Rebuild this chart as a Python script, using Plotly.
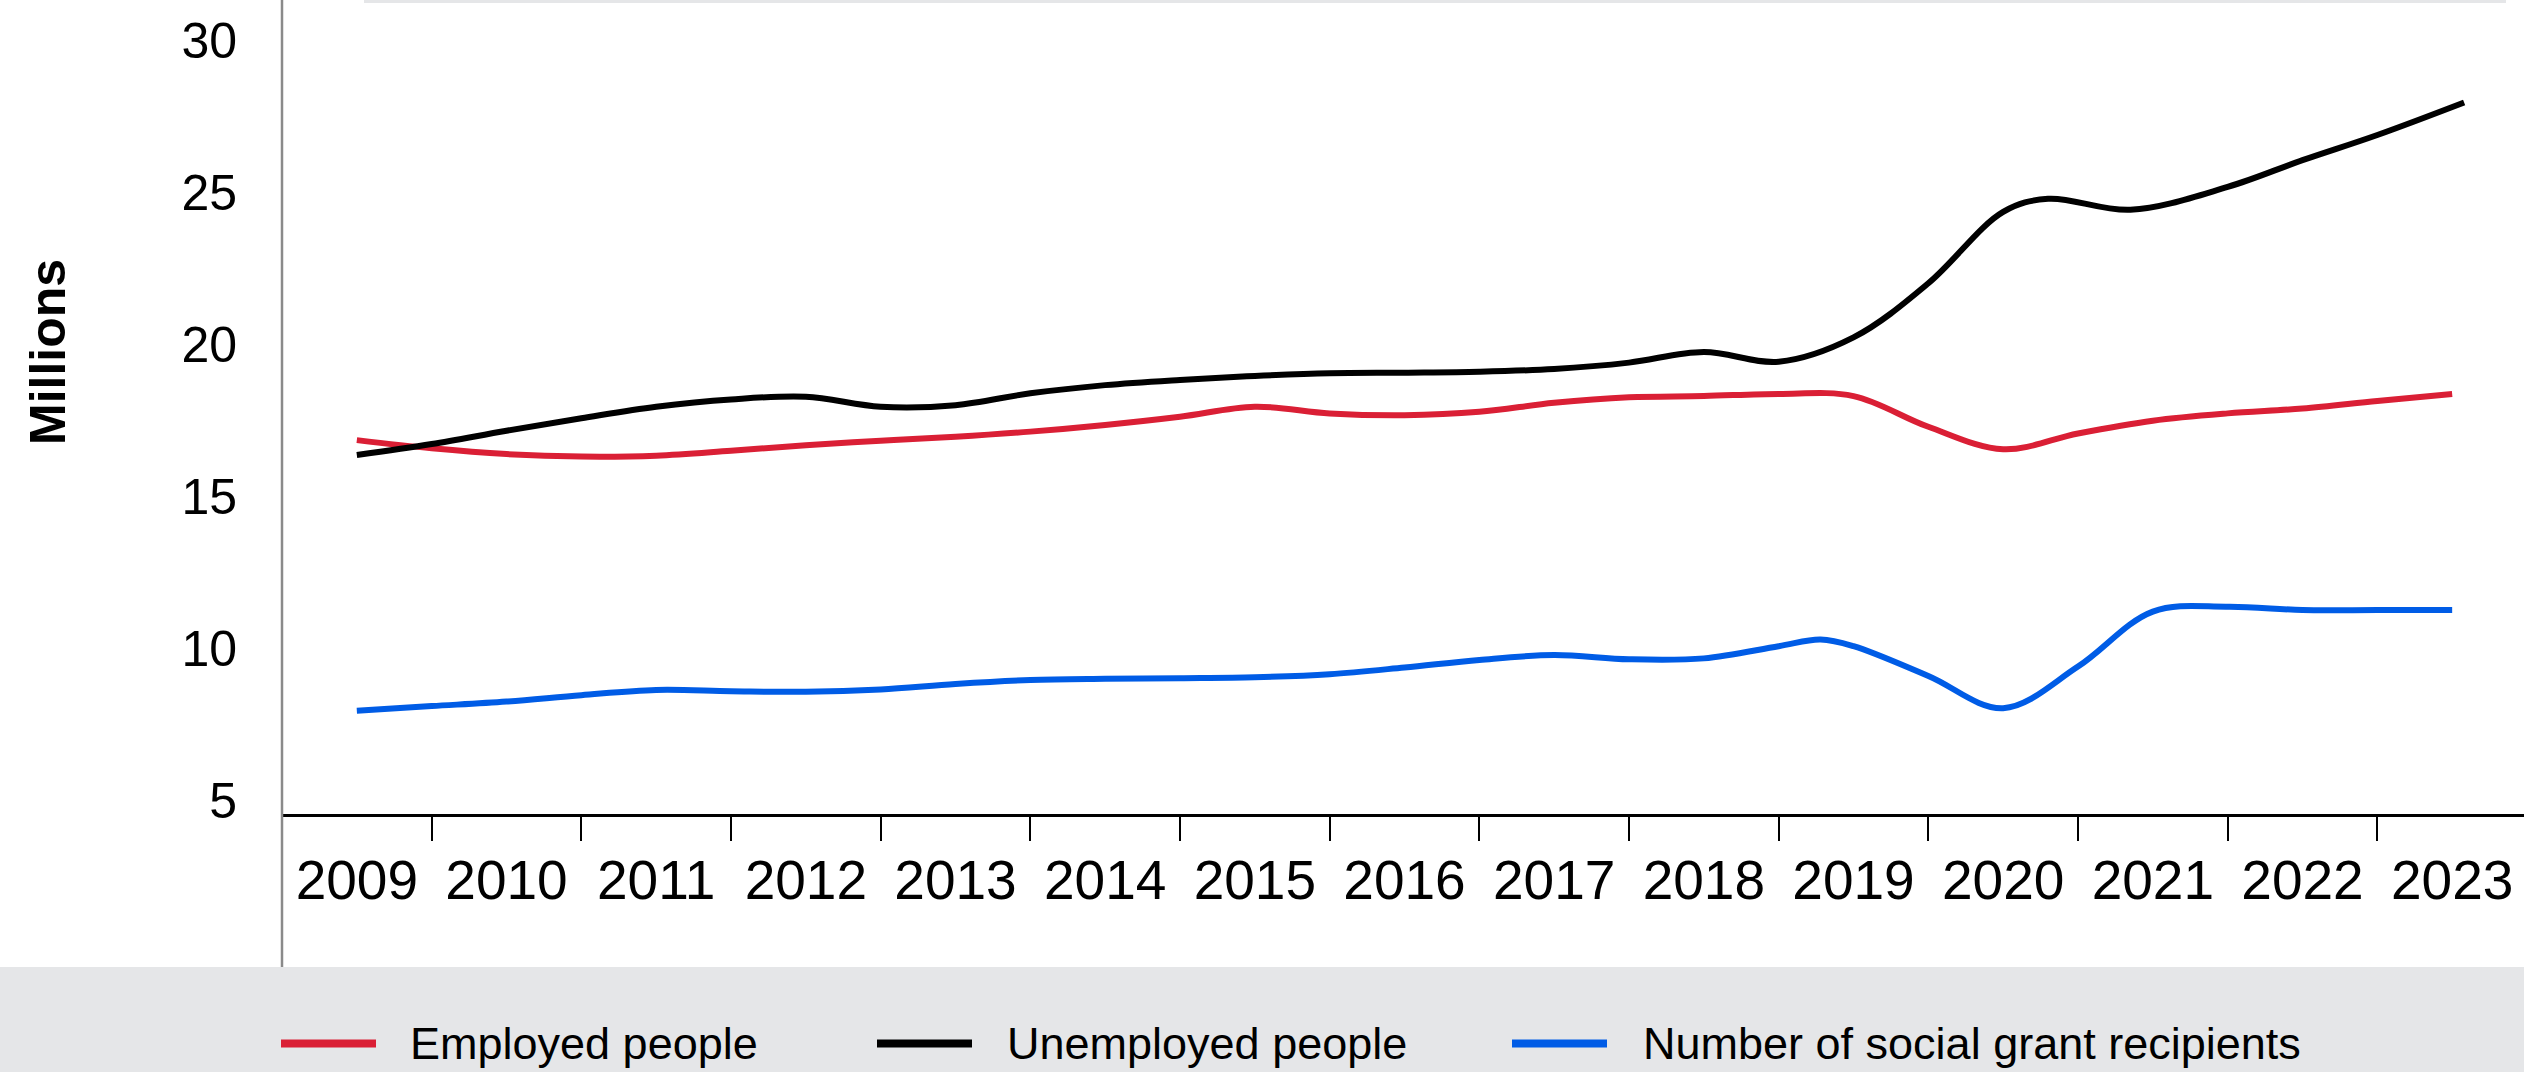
import plotly.graph_objects as go

# ---- data ----
x_employed = [2009.0, 2009.5, 2010.0, 2010.5, 2011.0, 2011.5, 2012.0, 2012.5, 2013.0, 2013.5,
              2014.0, 2014.5, 2015.0, 2015.5, 2016.0, 2016.5, 2017.0, 2017.5, 2018.0, 2018.5,
              2019.0, 2019.5, 2020.0, 2020.5, 2021.0, 2021.5, 2022.0, 2022.5, 2023.0]
employed = [16.84, 16.57, 16.38, 16.30, 16.33, 16.49, 16.67, 16.82, 16.95, 17.12,
            17.34, 17.61, 17.94, 17.72, 17.66, 17.77, 18.07, 18.25, 18.29, 18.36,
            18.29, 17.28, 16.54, 17.06, 17.48, 17.72, 17.88, 18.13, 18.36]

x_unemployed = [2009.0, 2009.5, 2010.0, 2010.5, 2011.0, 2011.5, 2012.0, 2012.5, 2013.0, 2013.5,
                2014.0, 2014.5, 2015.0, 2015.5, 2016.0, 2016.5, 2017.0, 2017.5, 2018.0, 2018.5,
                2019.0, 2019.5, 2020.0, 2020.3, 2020.85, 2021.5, 2022.0, 2022.5, 2023.08]
unemployed = [16.35, 16.71, 17.15, 17.56, 17.94, 18.18, 18.27, 17.94, 17.99, 18.38,
              18.65, 18.82, 18.95, 19.04, 19.06, 19.09, 19.18, 19.39, 19.74, 19.42,
              20.22, 22.00, 24.35, 24.78, 24.42, 25.17, 26.05, 26.88, 27.95]

x_grants = [2009.0, 2009.5, 2010.0, 2010.5, 2011.0, 2011.5, 2012.0, 2012.5, 2013.0, 2013.5,
            2014.0, 2014.5, 2015.0, 2015.5, 2016.0, 2016.5, 2017.0, 2017.5, 2018.0, 2018.5,
            2018.78, 2019.0, 2019.5, 2020.0, 2020.5, 2021.0, 2021.5, 2022.0, 2022.5, 2023.0]
grants = [7.94, 8.09, 8.24, 8.45, 8.62, 8.58, 8.56, 8.64, 8.82, 8.95,
          8.99, 9.01, 9.04, 9.14, 9.36, 9.61, 9.77, 9.63, 9.66, 10.06,
          10.28, 10.06, 9.08, 8.02, 9.39, 11.20, 11.36, 11.25, 11.25, 11.25]

year_ticks = [2009, 2010, 2011, 2012, 2013, 2014, 2015, 2016, 2017, 2018,
              2019, 2020, 2021, 2022, 2023]
year_labels = [str(y) for y in year_ticks]
boundary_ticks = [2009.5, 2010.5, 2011.5, 2012.5, 2013.5, 2014.5, 2015.5, 2016.5,
                  2017.5, 2018.5, 2019.5, 2020.5, 2021.5, 2022.5]
y_ticks = [5, 10, 15, 20, 25, 30]

series_names = ["Employed people", "Unemployed people", "Number of social grant recipients"]
series_colors = ["#da1f35", "#000000", "#005ce6"]

# ---- layout geometry (pixels) ----
W, H = 2524, 1072
ML, MR, MT, MB = 282, 0, 0, 258
PW, PH = W - ML - MR, H - MT - MB


def px_x(p):
    return (p - ML) / PW


def px_y(p):
    return 1 - (p - MT) / PH


FONT = "Liberation Sans, Helvetica Neue, Helvetica, Arial, sans-serif"

fig = go.Figure()
for name, xs, vals, col in zip(series_names,
                               [x_employed, x_unemployed, x_grants],
                               [employed, unemployed, grants], series_colors):
    fig.add_trace(go.Scatter(
        x=xs, y=vals, mode="lines", name=name,
        line=dict(color=col, width=6, shape="spline", smoothing=1.0),
        showlegend=False, hoverinfo="skip",
    ))

shapes = []
# legend background band
shapes.append(dict(type="rect", xref="paper", yref="paper", layer="below",
                   x0=px_x(0), x1=px_x(W), y0=px_y(967), y1=px_y(H + 5),
                   fillcolor="#e5e6e8", line=dict(width=0)))
# top grey band (bottom of a box above the chart)
shapes.append(dict(type="rect", xref="paper", yref="paper", layer="below",
                   x0=px_x(364), x1=px_x(2506), y0=px_y(3), y1=px_y(-20),
                   fillcolor="#e5e6e8", line=dict(width=0)))
# vertical axis line extending down to legend band
shapes.append(dict(type="line", xref="paper", yref="paper",
                   x0=px_x(282), x1=px_x(282), y0=px_y(0), y1=px_y(967),
                   line=dict(color="#8a8a8a", width=2.5)))

annotations = []
annotations.append(dict(text="Millions", xref="paper", yref="paper",
                        x=px_x(48), y=px_y(352), xanchor="center", yanchor="middle",
                        textangle=-90, showarrow=False,
                        font=dict(family=FONT, size=50, color="#000", weight="bold")))

legend_items = [
    (281, 376, 408),
    (877, 972, 1005),
    (1512, 1607, 1641),
]
LEG_Y = 1043.5
for (lx0, lx1, tx), name, col in zip(legend_items, series_names, series_colors):
    shapes.append(dict(type="line", xref="paper", yref="paper",
                       x0=px_x(lx0), x1=px_x(lx1), y0=px_y(LEG_Y), y1=px_y(LEG_Y),
                       line=dict(color=col, width=8)))
    annotations.append(dict(text=name, xref="paper", yref="paper",
                            x=px_x(tx), y=px_y(LEG_Y), xanchor="left", yanchor="middle",
                            showarrow=False,
                            font=dict(family=FONT, size=45, color="#000")))

fig.update_layout(
    width=W, height=H,
    margin=dict(l=ML, r=MR, t=MT, b=MB, pad=0),
    paper_bgcolor="white", plot_bgcolor="white",
    font=dict(family=FONT, color="#000"),
    shapes=shapes, annotations=annotations,
    showlegend=False,
)

fig.update_xaxes(
    range=[2008.5, 2023.48],
    tickmode="array", tickvals=year_ticks, ticktext=year_labels,
    ticks="", showgrid=False, zeroline=False,
    showline=True, linecolor="#000", linewidth=3,
    tickfont=dict(family=FONT, size=55, color="#000"),
    ticklabelstandoff=16,
    minor=dict(tickmode="array", tickvals=boundary_ticks, ticks="outside",
               ticklen=24, tickwidth=2, tickcolor="#000", showgrid=False),
    fixedrange=True,
)
fig.update_yaxes(
    range=[4.54, 31.32],
    tickmode="array", tickvals=y_ticks, ticktext=[str(v) for v in y_ticks],
    ticks="", showgrid=False, zeroline=False, showline=False,
    tickfont=dict(family=FONT, size=50, color="#000"),
    ticklabelstandoff=44,
    fixedrange=True,
)

fig.write_html("out.html")
